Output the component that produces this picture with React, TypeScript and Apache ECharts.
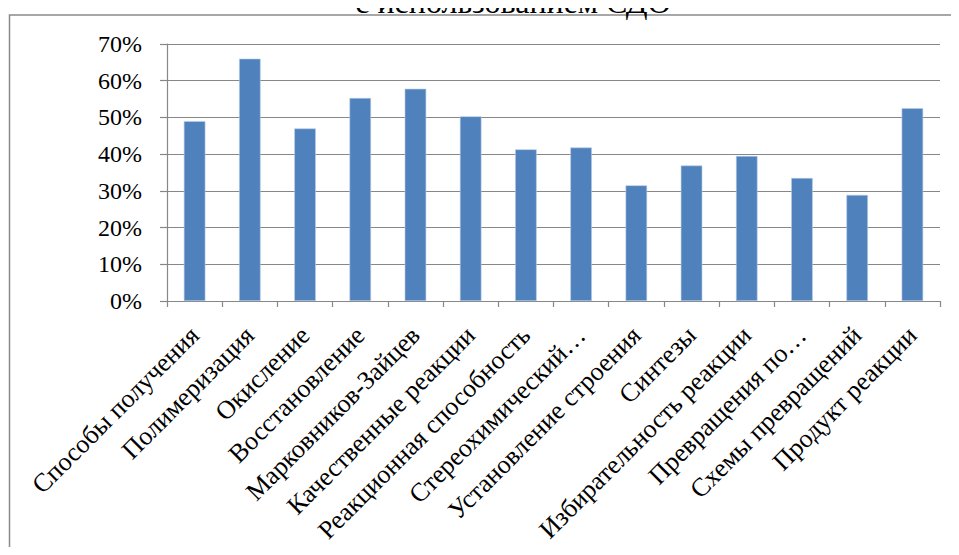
import React, { useEffect, useRef } from "react";
import * as echarts from "echarts";

const categories = [
  "Способы получения",
  "Полимеризация",
  "Окисление",
  "Восстановление",
  "Марковников-Зайцев",
  "Качественные реакции",
  "Реакционная способность",
  "Стереохимический…",
  "Установление строения",
  "Синтезы",
  "Избирательность реакции",
  "Превращения по…",
  "Схемы превращений",
  "Продукт реакции",
];

const values = [0.49, 0.66, 0.47, 0.553, 0.578, 0.503, 0.413, 0.418, 0.315, 0.369, 0.395, 0.335, 0.289, 0.525];

const titleText = "с использованием СДО";

const FONT = "'Liberation Serif', 'Times New Roman', serif";

export default function App() {
  const ref = useRef<HTMLDivElement>(null);
  useEffect(() => {
    if (!ref.current) return;
    const chart = echarts.init(ref.current, null, { renderer: "svg" });
    chart.setOption({
      animation: false,
      backgroundColor: "#ffffff",
      graphic: [
        {
          type: "rect",
          shape: { x: 9.5, y: 15, width: 970, height: 560 },
          style: { fill: "none", stroke: "#8a8a8a", lineWidth: 1.5 },
          z: 0,
        },
        {
          type: "text",
          x: 513,
          y: 18,
          style: {
            text: titleText,
            font: `32px ${FONT}`,
            fill: "#000",
            textAlign: "center",
            textVerticalAlign: "bottom",
          },
        },
      ],
      grid: { left: 167, right: 19, top: 44, bottom: 254, containLabel: false },
      xAxis: {
        type: "category",
        data: categories,
        axisLine: { show: true, lineStyle: { color: "#878787", width: 1.2 } },
        axisTick: { show: true, length: 6, alignWithLabel: false, lineStyle: { color: "#878787", width: 1.2 } },
        axisLabel: {
          interval: 0,
          rotate: 45,
          margin: 30,
          color: "#000",
          fontFamily: FONT,
          fontSize: 26,
        },
      },
      yAxis: {
        type: "value",
        min: 0,
        max: 0.7,
        interval: 0.1,
        axisLine: { show: true, lineStyle: { color: "#878787", width: 1.2 } },
        axisTick: { show: true, length: 7, lineStyle: { color: "#878787", width: 1.2 } },
        splitLine: { show: true, lineStyle: { color: "#878787", width: 1.2 } },
        axisLabel: {
          margin: 25,
          color: "#000",
          fontFamily: FONT,
          fontSize: 24,
          formatter: (v: number) => `${Math.round(v * 100)}%`,
        },
      },
      series: [
        {
          type: "bar",
          data: values,
          barWidth: "39%",
          itemStyle: { color: "#4F81BD", borderColor: "#B9CDE5", borderWidth: 0.6 },
        },
      ],
    });
    return () => chart.dispose();
  }, []);
  return <div ref={ref} style={{ width: 959, height: 555, margin: -8 }} />;
}
